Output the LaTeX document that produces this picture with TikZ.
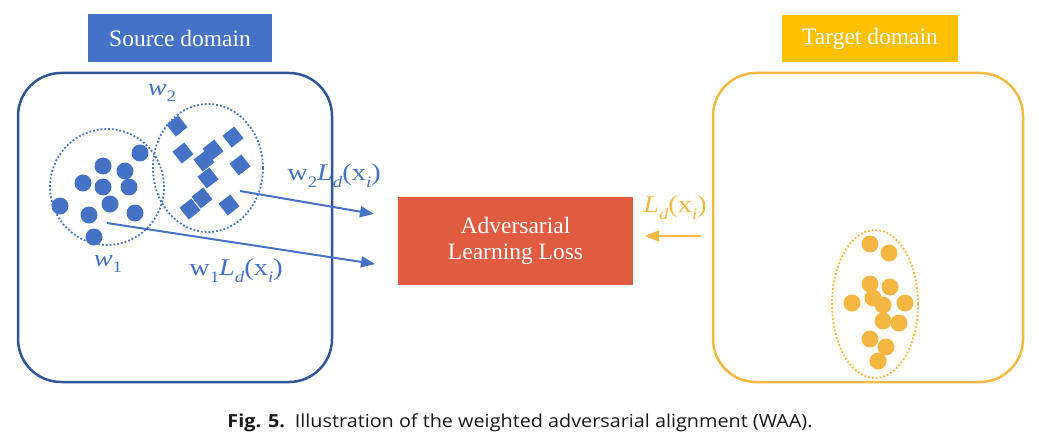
\documentclass[tikz,border=0pt]{standalone}
\usepackage{fontspec}
\setmainfont{Liberation Serif}
\newfontfamily\capfont{Open Sans}
\usetikzlibrary{arrows.meta,shapes.geometric}
\definecolor{srcblue}{HTML}{4472C4}
\definecolor{srcframe}{HTML}{2F5597}
\definecolor{tgtgold}{HTML}{FFC000}
\definecolor{tgtframe}{HTML}{F4B942}
\definecolor{tgtdot}{HTML}{F5B642}
\definecolor{lossred}{HTML}{E15B41}
\newcommand\lowsub[1]{\raisebox{-0.28em}{\fontsize{16}{16}\selectfont #1}}
\newcommand\mlab[1]{\scalebox{1.18}[1]{#1}}
\tikzset{
  frame/.style={rounded corners=43pt, line width=2.5pt, minimum width=314pt, minimum height=309pt, inner sep=0pt},
  labelbox/.style={text=white, font=\fontsize{23.5}{26}\selectfont, inner sep=0pt},
  dotclust/.style={ellipse, dotted, line width=1.8pt, inner sep=0pt},
  bdot/.style={circle, fill=srcblue, minimum size=17pt, inner sep=0pt},
  bsq/.style={rectangle, fill=srcblue, minimum size=15pt, inner sep=0pt, rotate=38},
  ydot/.style={circle, fill=tgtdot, minimum size=17pt, inner sep=0pt},
  mathlab/.style={font=\fontsize{24}{26}\selectfont, inner sep=0pt},
  barrow/.style={draw=srcblue, line width=2pt, -{Triangle[length=14pt,width=11pt]}},
  yarrow/.style={draw=tgtframe, line width=2pt, -{Triangle[length=14pt,width=11pt]}}
}
\begin{document}
\begin{tikzpicture}[x=1pt,y=-1pt]
\useasboundingbox (0,0) rectangle (1039,441);
% frames
\node[frame, draw=srcframe] (src) at (175,227.5) {};
\node[frame, draw=tgtframe, minimum width=310pt] (tgt) at (868,227.5) {};
% labels
\node[labelbox, fill=srcblue, minimum width=184pt, minimum height=48pt] (srcl) at (180,38) {Source domain};
\node[labelbox, fill=tgtgold, minimum width=176pt, minimum height=47pt] (tgtl) at (870,38.5) {Target domain};
% loss box
\node[labelbox, fill=lossred, minimum width=235pt, minimum height=88pt, align=center, font=\fontsize{23.5}{26}\selectfont] (loss) at (515.5,241) {Adversarial\\Learning Loss};
% clusters
\node[dotclust, draw=srcblue, minimum width=114pt, minimum height=116pt] (c1) at (107,187) {};
\node[dotclust, draw=srcblue, minimum width=110pt, minimum height=128pt] (c2) at (208,168) {};
\node[dotclust, draw=tgtdot, minimum width=86pt, minimum height=148pt] (c3) at (875,304) {};
% source circles
\foreach \p [count=\k] in {(140,153),(103,166),(125,171),(83,183),(103,187),(129,187),(60,206),(110,204),(135,213),(89,215),(94,237)}
  \node[bdot] (b\k) at \p {};
% source squares
\foreach \p [count=\k] in {(177,126),(233,137),(183,153),(213,150),(204,161),(240,165),(208,178),(202,198),(190,209),(229,205)}
  \node[bsq] (s\k) at \p {};
% target circles
\foreach \p [count=\k] in {(870,244),(889,253),(870,284),(890,287),(852,303),(873,298),(883,305),(905,303),(883,321),(899,323),(870,339),(886,347),(878,361)}
  \node[ydot] (y\k) at \p {};
% weight labels
\node[mathlab, text=srcblue] (w2) at (162,93) {\mlab{\textit{w}\lowsub{2}}};
\node[mathlab, text=srcblue] (w1) at (108,264) {\mlab{\textit{w}\lowsub{1}}};
% arrows
\coordinate (a2s) at (240,191);
\coordinate (a2e) at (374,214);
\coordinate (a1s) at (107,223);
\coordinate (a1e) at (375,264);
\coordinate (yas) at (701,236);
\coordinate (yae) at (645,236);
\draw[barrow] (a2s) -- (a2e);
\draw[barrow] (a1s) -- (a1e);
\draw[yarrow] (yas) -- (yae);
\node[mathlab, text=srcblue] (l2) at (334,176) {\mlab{w\lowsub{2}\textit{L}\lowsub{\textit{d}}(x\lowsub{\textit{i}})}};
\node[mathlab, text=srcblue] (l1) at (236,271) {\mlab{w\lowsub{1}\textit{L}\lowsub{\textit{d}}(x\lowsub{\textit{i}})}};
\node[mathlab, text=tgtframe] (l3) at (675,208) {\mlab{\textit{L}\lowsub{\textit{d}}(x\lowsub{\textit{i}})}};
% caption
\node[font=\capfont\fontsize{18}{20}\selectfont, text=black!90, inner sep=0pt] (cap) at (520,423) {\scalebox{1.1}[1]{\textbf{Fig. 5.}\enspace Illustration of the weighted adversarial alignment (WAA).}};
\end{tikzpicture}
\end{document}
